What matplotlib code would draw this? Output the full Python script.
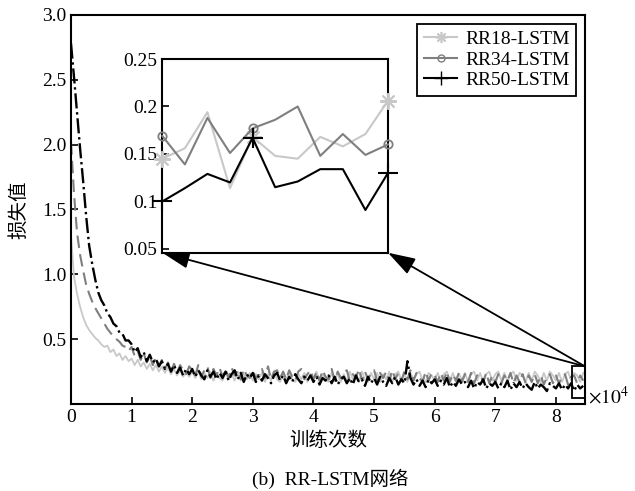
import numpy as np
import matplotlib
matplotlib.use('Agg')
import matplotlib.pyplot as plt
from matplotlib.lines import Line2D
from matplotlib.patches import Rectangle

plt.rcParams['font.family'] = ['Liberation Serif', 'Noto Sans CJK SC']
plt.rcParams['mathtext.fontset'] = 'stix'

# training iterations (x 10^4), one value every 500 iterations
iters = np.arange(170) * 0.05

loss_rr18 = [
    1.30, 0.98, 0.85, 0.75, 0.67, 0.61, 0.57, 0.54, 0.51, 0.49,
    0.46, 0.44, 0.45, 0.40, 0.42, 0.37, 0.39, 0.34, 0.37, 0.33,
    0.35, 0.30, 0.34, 0.29, 0.32, 0.27, 0.31, 0.26, 0.30, 0.25,
    0.29, 0.24, 0.28, 0.23, 0.27, 0.22, 0.26, 0.21, 0.25, 0.21,
    0.25, 0.20, 0.26, 0.19, 0.24, 0.20, 0.25, 0.18, 0.24, 0.20,
    0.18, 0.24, 0.19, 0.23, 0.18, 0.25, 0.18, 0.23, 0.19, 0.24,
    0.18, 0.23, 0.19, 0.24, 0.17, 0.23, 0.18, 0.25, 0.19, 0.17,
    0.24, 0.18, 0.25, 0.19, 0.17, 0.23, 0.19, 0.24, 0.17, 0.23,
    0.19, 0.25, 0.17, 0.23, 0.19, 0.17, 0.24, 0.19, 0.23, 0.17,
    0.23, 0.18, 0.25, 0.19, 0.23, 0.17, 0.25, 0.19, 0.17, 0.24,
    0.19, 0.24, 0.17, 0.23, 0.19, 0.25, 0.17, 0.23, 0.25, 0.18,
    0.23, 0.17, 0.24, 0.19, 0.23, 0.25, 0.18, 0.17, 0.24, 0.22,
    0.18, 0.24, 0.17, 0.23, 0.25, 0.18, 0.24, 0.17, 0.23, 0.19,
    0.24, 0.17, 0.23, 0.25, 0.18, 0.24, 0.17, 0.23, 0.25, 0.18,
    0.23, 0.25, 0.18, 0.24, 0.17, 0.23, 0.25, 0.18, 0.24, 0.22,
    0.17, 0.24, 0.18, 0.25, 0.22, 0.17, 0.24, 0.18, 0.25, 0.22,
    0.18, 0.24, 0.17, 0.23, 0.25, 0.18, 0.24, 0.22, 0.17, 0.24,
]

loss_rr34 = [
    2.02, 1.62, 1.32, 1.15, 1.03, 0.92, 0.85, 0.79, 0.74, 0.70,
    0.66, 0.62, 0.58, 0.55, 0.52, 0.50, 0.48, 0.45, 0.44, 0.41,
    0.44, 0.37, 0.41, 0.34, 0.39, 0.32, 0.37, 0.30, 0.36, 0.29,
    0.34, 0.27, 0.32, 0.25, 0.31, 0.24, 0.30, 0.26, 0.23, 0.29,
    0.26, 0.22, 0.30, 0.21, 0.26, 0.29, 0.20, 0.27, 0.22, 0.28,
    0.21, 0.27, 0.20, 0.28, 0.22, 0.26, 0.19, 0.27, 0.22, 0.20,
    0.26, 0.19, 0.24, 0.27, 0.20, 0.29, 0.19, 0.25, 0.26, 0.20,
    0.25, 0.19, 0.26, 0.21, 0.18, 0.25, 0.27, 0.19, 0.23, 0.26,
    0.19, 0.25, 0.18, 0.26, 0.21, 0.19, 0.27, 0.18, 0.25, 0.20,
    0.24, 0.26, 0.18, 0.23, 0.20, 0.27, 0.18, 0.25, 0.19, 0.24,
    0.26, 0.18, 0.24, 0.20, 0.25, 0.18, 0.26, 0.19, 0.24, 0.18,
    0.25, 0.19, 0.26, 0.18, 0.24, 0.20, 0.17, 0.25, 0.18, 0.24,
    0.22, 0.17, 0.24, 0.18, 0.25, 0.17, 0.23, 0.18, 0.24, 0.17,
    0.23, 0.17, 0.24, 0.16, 0.22, 0.23, 0.17, 0.24, 0.16, 0.22,
    0.17, 0.23, 0.16, 0.22, 0.18, 0.24, 0.16, 0.22, 0.17, 0.23,
    0.16, 0.22, 0.17, 0.23, 0.16, 0.22, 0.15, 0.21, 0.23, 0.16,
    0.22, 0.16, 0.21, 0.23, 0.15, 0.21, 0.22, 0.16, 0.22, 0.18,
]

loss_rr50 = [
    2.78, 2.52, 2.24, 1.97, 1.72, 1.45, 1.22, 1.08, 0.96, 0.86,
    0.80, 0.76, 0.70, 0.67, 0.62, 0.60, 0.55, 0.54, 0.49, 0.49,
    0.46, 0.40, 0.43, 0.36, 0.40, 0.33, 0.38, 0.32, 0.35, 0.29,
    0.33, 0.27, 0.31, 0.25, 0.30, 0.24, 0.28, 0.22, 0.27, 0.23,
    0.27, 0.21, 0.26, 0.22, 0.19, 0.26, 0.21, 0.25, 0.19, 0.24,
    0.20, 0.25, 0.18, 0.23, 0.26, 0.19, 0.24, 0.17, 0.23, 0.20,
    0.24, 0.17, 0.22, 0.18, 0.23, 0.20, 0.16, 0.22, 0.24, 0.18,
    0.22, 0.16, 0.21, 0.17, 0.23, 0.19, 0.16, 0.21, 0.18, 0.22,
    0.17, 0.21, 0.15, 0.20, 0.18, 0.22, 0.16, 0.21, 0.15, 0.19,
    0.21, 0.16, 0.20, 0.15, 0.22, 0.17, 0.19, 0.14, 0.21, 0.16,
    0.20, 0.15, 0.21, 0.17, 0.14, 0.20, 0.16, 0.21, 0.15, 0.19,
    0.16, 0.33, 0.20, 0.15, 0.19, 0.14, 0.18, 0.13, 0.19, 0.16,
    0.19, 0.14, 0.18, 0.15, 0.20, 0.13, 0.17, 0.14, 0.19, 0.15,
    0.17, 0.13, 0.18, 0.12, 0.17, 0.15, 0.19, 0.12, 0.16, 0.14,
    0.17, 0.12, 0.16, 0.13, 0.18, 0.11, 0.16, 0.13, 0.17, 0.12,
    0.16, 0.13, 0.11, 0.17, 0.12, 0.15, 0.13, 0.10, 0.16, 0.14,
    0.12, 0.16, 0.11, 0.15, 0.12, 0.16, 0.10, 0.15, 0.12, 0.14,
]

# zoomed window at the end of training (11 samples)
zoom_idx = np.arange(11)
zoom_rr18 = [0.145, 0.156, 0.194, 0.114, 0.168, 0.148, 0.145, 0.168, 0.158, 0.171, 0.206]
zoom_rr34 = [0.169, 0.139, 0.188, 0.151, 0.177, 0.186, 0.200, 0.148, 0.171, 0.149, 0.160]
zoom_rr50 = [0.100, 0.114, 0.129, 0.120, 0.167, 0.115, 0.121, 0.134, 0.134, 0.091, 0.130]
marks = [0, 4, 10]

c18 = '#c8c8c8'
c34 = '#7f7f7f'
c50 = 'black'
star = (8, 2, 0)  # asterisk-like marker

fig = plt.figure(figsize=(6.35, 4.91), dpi=100)
ax = fig.add_axes([0.1118, 0.1772, 0.8095, 0.7923])

ax.plot(iters, loss_rr18, color=c18, lw=1.3, ls='-')
ax.plot(iters, loss_rr34, color=c34, lw=1.5, ls=(0, (6, 3)))
ax.plot(iters, loss_rr50, color=c50, lw=1.7, ls='-.')

ax.set_xlim(0, 8.48)
ax.set_ylim(0, 3.0)
ax.set_xticks(range(9))
ax.set_yticks([0.5, 1.0, 1.5, 2.0, 2.5, 3.0])
ax.set_yticklabels(['0.5', '1.0', '1.5', '2.0', '2.5', '3.0'])
ax.tick_params(direction='in', labelsize=14, length=5, width=1.2)
for s in ax.spines.values():
    s.set_linewidth(1.5)

ax.set_xlabel('训练次数', fontsize=14, labelpad=4)
ax.set_ylabel('损失值', fontsize=14, labelpad=10)
ax.text(1.005, 0.018, r'$\times10^4$', transform=ax.transAxes, fontsize=14,
        ha='left', va='center')
fig.text(0.52, 0.012, '(b)  RR-LSTM网络', fontsize=14, ha='center')

# box around the zoomed region
ax.add_patch(Rectangle((8.27, 0.05), 0.21, 0.24, fill=False, ec='black', lw=1.3, zorder=5))

ins = fig.add_axes([0.2556, 0.4853, 0.3554, 0.3945])
ins.plot(zoom_idx, zoom_rr18, color=c18, lw=1.5, marker=star, ms=12, mew=1.4,
         markevery=marks, clip_on=False, zorder=3)
ins.plot(zoom_idx, zoom_rr34, color=c34, lw=1.5, marker='o', ms=6, mfc='none',
         mew=1.3, markevery=marks, clip_on=False, zorder=3)
ins.plot(zoom_idx, zoom_rr50, color=c50, lw=1.5, marker='+', ms=14, mew=1.5,
         markevery=marks, clip_on=False, zorder=4)
ins.set_xlim(0, 10)
ins.set_ylim(0.046, 0.25)
ins.set_xticks([])
ins.set_yticks([0.05, 0.1, 0.15, 0.2, 0.25])
ins.set_yticklabels(['0.05', '0.1', '0.15', '0.2', '0.25'])
ins.tick_params(direction='in', labelsize=14, length=5, width=1.2)
for s in ins.spines.values():
    s.set_linewidth(1.5)

# arrows from the box to the inset corners
for cx in (0, 1):
    ax.annotate('', xy=(cx, 0), xycoords=ins.transAxes,
                xytext=(8.48, 0.29), textcoords='data',
                arrowprops=dict(arrowstyle='-|>,head_length=1.4,head_width=0.45',
                                mutation_scale=12, color='black', lw=1.3,
                                shrinkA=0, shrinkB=0))

handles = [
    Line2D([], [], color=c18, lw=1.5, marker=star, ms=8, mew=1.2),
    Line2D([], [], color=c34, lw=1.5, marker='o', ms=5, mfc='none'),
    Line2D([], [], color=c50, lw=1.5, marker='+', ms=10),
]
leg = ax.legend(handles, ['RR18-LSTM', 'RR34-LSTM', 'RR50-LSTM'], loc='upper right',
                fontsize=14, fancybox=False, framealpha=1, edgecolor='black',
                borderpad=0.35, labelspacing=0.15, handlelength=1.7,
                handletextpad=0.4, borderaxespad=0.45)
leg.get_frame().set_linewidth(1.3)

fig.savefig('out.png', dpi=100)
